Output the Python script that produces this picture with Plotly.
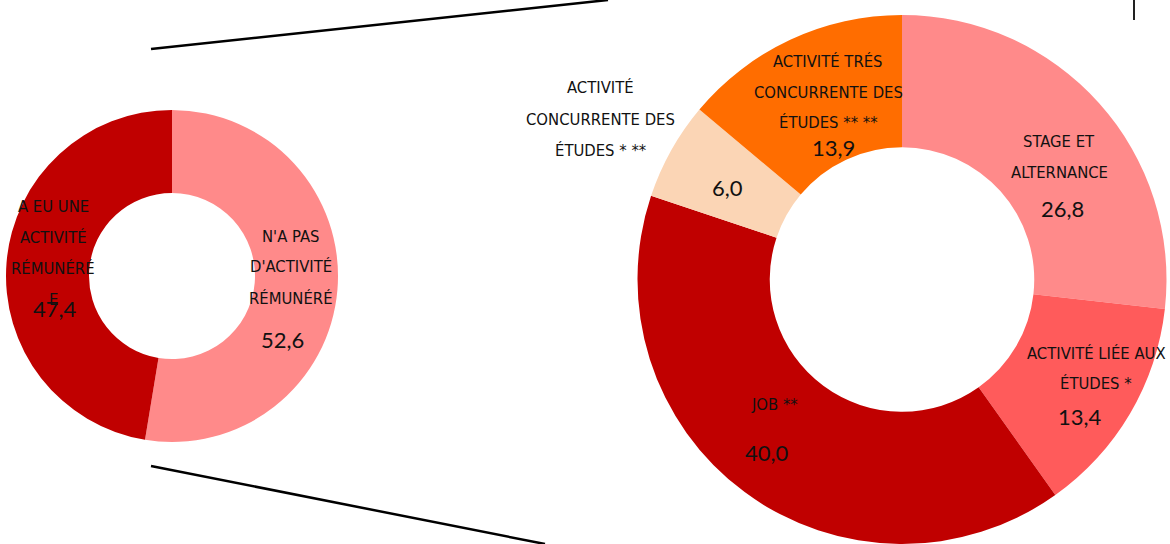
import plotly.graph_objects as go

W, H = 1170, 544

# ---- data ----
left_labels = ["N'A PAS D'ACTIVITÉ RÉMUNÉRÉ", "A EU UNE ACTIVITÉ RÉMUNÉRÉE"]
left_values = [52.6, 47.4]
left_colors = ["#FF8A8A", "#C00000"]

right_labels = ["STAGE ET ALTERNANCE", "ACTIVITÉ LIÉE AUX ÉTUDES *", "JOB **",
                "ACTIVITÉ CONCURRENTE DES ÉTUDES * **",
                "ACTIVITÉ TRÉS CONCURRENTE DES ÉTUDES ** **"]
right_values = [26.8, 13.4, 40.0, 6.0, 13.9]
right_colors = ["#FF8A8A", "#FF5B5B", "#C00000", "#FBD5B5", "#FF6D00"]

# wrapped label lines as they appear in the reference
left_label_lines = [["N'A PAS", "D'ACTIVITÉ", "RÉMUNÉRÉ"],
                    ["A EU UNE", "ACTIVITÉ", "RÉMUNÉRÉ", "E"]]
right_label_lines = [["STAGE ET", "ALTERNANCE"],
                     ["ACTIVITÉ LIÉE AUX", "ÉTUDES *"],
                     ["JOB **"],
                     ["ACTIVITÉ", "CONCURRENTE DES", "ÉTUDES * **"],
                     ["ACTIVITÉ TRÉS", "CONCURRENTE DES", "ÉTUDES ** **"]]


def fmt(v):
    return f"{v:.1f}".replace(".", ",")


def px(x):
    return x / W


def py(y):
    return 1 - y / H


fig = go.Figure()
fig.add_trace(go.Pie(
    labels=left_labels, values=left_values, hole=0.5, sort=False,
    direction="clockwise", rotation=0, textinfo="none", hoverinfo="label+value",
    marker=dict(colors=left_colors, line=dict(width=0)),
    domain=dict(x=[px(6), px(338)], y=[py(442), py(110)]),
    showlegend=False,
))
fig.add_trace(go.Pie(
    labels=right_labels, values=right_values, hole=0.5, sort=False,
    direction="clockwise", rotation=0, textinfo="none", hoverinfo="label+value",
    marker=dict(colors=right_colors, line=dict(width=0)),
    domain=dict(x=[px(637.5), px(1166.5)], y=[0, py(15)]),
    showlegend=False,
))

LABEL_FONT = dict(family="DejaVu Sans Condensed, Liberation Sans Narrow, sans-serif",
                  size=16.5, color="#111111")
NUM_FONT = dict(family="Lato, Open Sans, sans-serif", size=22, color="#111111")

# layout: (x centre, first line y, line step) for each label block; number centres
left_label_pos = [(291, 235, 31), (53, 205, 31)]
right_label_pos = [(1059, 140, 31), (1096, 352, 30), (774, 403, 31),
                   (600, 87, 31), (828, 60, 31)]
left_num_pos = [(282, 338), (55, 307)]
right_num_pos = [(1062, 207), (1080, 415), (767, 451), (727, 186), (833, 147)]

annotations = []


def add_text(text, x, y, font):
    annotations.append(dict(text=text, x=px(x), y=py(y), xref="paper", yref="paper",
                            showarrow=False, font=font, xanchor="center", yanchor="middle"))


for lines, (x, y0, step) in zip(left_label_lines + right_label_lines,
                                left_label_pos + right_label_pos):
    for i, line in enumerate(lines):
        add_text(line, x, y0 + i * step + 1, LABEL_FONT)

for v, (x, y) in zip(left_values + right_values, left_num_pos + right_num_pos):
    add_text(fmt(v), x, y + 1, NUM_FONT)

line_style = dict(color="#000000", width=2.5)
shapes = [
    dict(type="line", xref="paper", yref="paper", x0=px(151), y0=py(49), x1=px(608), y1=py(0), line=line_style),
    dict(type="line", xref="paper", yref="paper", x0=px(151), y0=py(466), x1=px(545), y1=py(544), line=line_style),
    dict(type="line", xref="paper", yref="paper", x0=px(1134), y0=py(0), x1=px(1134), y1=py(20),
         line=dict(color="#222222", width=2)),
]

fig.update_layout(
    width=W, height=H, margin=dict(l=0, r=0, t=0, b=0),
    paper_bgcolor="white", plot_bgcolor="white",
    annotations=annotations, shapes=shapes,
)

fig.write_html("out.html", config={"displayModeBar": False},
               post_script="document.body.style.margin='0';document.body.style.overflow='hidden';")
